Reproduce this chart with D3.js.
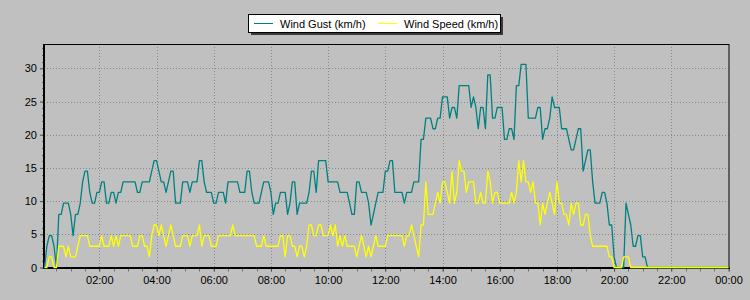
<!DOCTYPE html>
<html>
<head>
<meta charset="utf-8">
<script src="https://cdn.jsdelivr.net/npm/d3@7"></script>
<style>
    body { margin: 0; background: #c0c0c0; }
    svg { display: block; font-family: "Liberation Sans", Arial, sans-serif; }
</style>
</head>
<body>
<div id="chart"></div>
<script>
// readings every 5 minutes, first one at 00:05, last one at 24:00
const startMinute = 5;
const stepMinutes = 5;

const seriesNames = ['Wind Gust (km/h)', 'Wind Speed (km/h)'];
const seriesColors = ['#008080', '#ffff00'];

const windGust = [
    0, 3.2, 4.8, 4.8, 3.2, 0, 8.0, 8.0, 9.7, 9.7, 9.7, 8.0,
    4.8, 8.0, 8.0, 9.7, 12.9, 14.5, 14.5, 11.3, 9.7, 9.7, 11.3, 11.3,
    12.9, 12.9, 9.7, 9.7, 11.3, 11.3, 9.7, 11.3, 11.3, 12.9, 12.9, 12.9,
    12.9, 12.9, 12.9, 11.3, 11.3, 12.9, 12.9, 12.9, 12.9, 14.5, 16.1, 16.1,
    14.5, 12.9, 12.9, 11.3, 12.9, 14.5, 14.5, 9.7, 9.7, 9.7, 12.9, 12.9,
    12.9, 11.3, 12.9, 12.9, 12.9, 16.1, 16.1, 12.9, 11.3, 11.3, 11.3, 9.7,
    9.7, 11.3, 11.3, 11.3, 9.7, 12.9, 12.9, 12.9, 12.9, 12.9, 11.3, 11.3,
    11.3, 14.5, 14.5, 11.3, 9.7, 9.7, 9.7, 11.3, 12.9, 12.9, 12.9, 11.3,
    8.0, 9.7, 9.7, 11.3, 11.3, 11.3, 8.0, 9.7, 12.9, 12.9, 8.0, 9.7,
    9.7, 9.7, 9.7, 11.3, 14.5, 14.5, 11.3, 16.1, 16.1, 16.1, 16.1, 12.9,
    12.9, 12.9, 12.9, 12.9, 11.3, 11.3, 11.3, 11.3, 9.7, 8.0, 8.0, 12.9,
    12.9, 11.3, 11.3, 11.3, 9.7, 6.4, 8.0, 9.7, 11.3, 11.3, 11.3, 14.5,
    14.5, 16.1, 16.1, 11.3, 11.3, 11.3, 11.3, 9.7, 11.3, 11.3, 11.3, 12.9,
    12.9, 12.9, 19.3, 19.3, 22.5, 22.5, 22.5, 20.9, 20.9, 22.5, 22.5, 25.7,
    25.7, 25.7, 22.5, 24.1, 24.1, 22.5, 27.4, 27.4, 27.4, 27.4, 27.4, 24.1,
    25.7, 24.1, 20.9, 24.1, 24.1, 20.9, 29.0, 29.0, 22.5, 22.5, 24.1, 24.1,
    24.1, 19.3, 19.3, 20.9, 20.9, 19.3, 27.4, 27.4, 30.6, 30.6, 30.6, 22.5,
    22.5, 22.5, 22.5, 24.1, 24.1, 19.3, 20.9, 20.9, 22.5, 25.7, 24.1, 24.1,
    24.1, 20.9, 20.9, 20.9, 19.3, 17.7, 17.7, 19.3, 20.9, 20.9, 14.5, 16.1,
    17.7, 17.7, 12.9, 9.7, 9.7, 9.7, 11.3, 11.3, 9.7, 6.4, 6.4, 1.6,
    0, 0, 0, 0, 9.7, 8.0, 6.4, 3.2, 3.2, 4.8, 4.8, 1.6,
    1.6, 0, 0, 0, 0, 0, 0, 0, 0, 0, 0, 0,
    0, 0, 0, 0, 0, 0, 0, 0, 0, 0, 0, 0,
    0, 0, 0, 0, 0, 0, 0, 0, 0, 0, 0, 0
];

const windSpeed = [
    0, 0, 1.6, 1.6, 0, 0, 3.2, 3.2, 3.2, 1.6, 3.2, 1.6,
    1.6, 1.6, 3.2, 4.8, 4.8, 4.8, 4.8, 3.2, 3.2, 3.2, 3.2, 3.2,
    4.8, 3.2, 3.2, 3.2, 4.8, 3.2, 4.8, 3.2, 4.8, 4.8, 4.8, 4.8,
    4.8, 3.2, 3.2, 3.2, 4.8, 4.8, 3.2, 3.2, 1.6, 4.8, 6.4, 6.4,
    4.8, 6.4, 4.8, 3.2, 4.8, 6.4, 4.8, 3.2, 3.2, 3.2, 4.8, 4.8,
    4.8, 3.2, 4.8, 4.8, 4.8, 6.4, 3.2, 4.8, 4.8, 4.8, 3.2, 3.2,
    3.2, 4.8, 4.8, 4.8, 4.8, 4.8, 4.8, 6.4, 4.8, 4.8, 4.8, 4.8,
    4.8, 4.8, 4.8, 4.8, 4.8, 3.2, 3.2, 3.2, 4.8, 3.2, 3.2, 3.2,
    3.2, 3.2, 3.2, 4.8, 4.8, 1.6, 4.8, 4.8, 3.2, 3.2, 1.6, 3.2,
    3.2, 1.6, 3.2, 6.4, 6.4, 4.8, 4.8, 6.4, 6.4, 4.8, 4.8, 4.8,
    6.4, 4.8, 6.4, 3.2, 4.8, 3.2, 4.8, 3.2, 3.2, 3.2, 3.2, 1.6,
    3.2, 4.8, 3.2, 1.6, 3.2, 1.6, 3.2, 4.8, 3.2, 3.2, 3.2, 3.2,
    4.8, 4.8, 4.8, 4.8, 4.8, 4.8, 4.8, 3.2, 4.8, 4.8, 6.4, 4.8,
    3.2, 1.6, 6.4, 6.4, 12.9, 8.0, 8.0, 8.0, 9.7, 11.3, 9.7, 12.9,
    12.9, 11.3, 9.7, 14.5, 9.7, 11.3, 16.1, 14.5, 14.5, 11.3, 12.9, 12.9,
    12.9, 9.7, 9.7, 11.3, 9.7, 9.7, 14.5, 12.9, 9.7, 11.3, 11.3, 9.7,
    9.7, 9.7, 9.7, 9.7, 11.3, 9.7, 11.3, 16.1, 12.9, 16.1, 12.9, 12.9,
    11.3, 12.9, 9.7, 9.7, 6.4, 9.7, 8.0, 9.7, 11.3, 9.7, 8.0, 12.9,
    9.7, 9.7, 8.0, 8.0, 6.4, 9.7, 8.0, 9.7, 9.7, 6.4, 6.4, 8.0,
    8.0, 4.8, 3.2, 3.2, 3.2, 3.2, 3.2, 3.2, 3.2, 1.6, 1.6, 0,
    0, 0, 0, 1.6, 1.6, 1.6, 0, 0, 0, 0, 0, 0,
    0, 0, 0, 0, 0, 0, 0, 0, 0, 0, 0, 0,
    0, 0, 0, 0, 0, 0, 0, 0, 0, 0, 0, 0,
    0, 0, 0, 0, 0, 0, 0, 0, 0, 0, 0, 0
];

const yTicks = [0, 5, 10, 15, 20, 25, 30];
const xTickMinutes = [120, 240, 360, 480, 600, 720, 840, 960, 1080, 1200, 1320, 1440];

const width = 750, height = 300;
const plotLeft = 44, plotRight = 728.5, plotTop = 44, plotBottom = 267.5;

const svg = d3.select('#chart').append('svg')
    .attr('width', width)
    .attr('height', height);

svg.append('rect')
    .attr('width', width)
    .attr('height', height)
    .attr('fill', '#c0c0c0');

const maxValue = d3.max(windGust);

const x = d3.scaleLinear()
    .domain([startMinute, 1440])
    .range([plotLeft + 0.5, plotRight]);

const y = d3.scaleLinear()
    .domain([0, maxValue * 1.1])
    .range([plotBottom, plotTop]);

const fmtTime = m => {
    const h = Math.floor(m / 60) % 24;
    return String(h).padStart(2, '0') + ':' + String(m % 60).padStart(2, '0');
};

// dotted grid
svg.append('g')
    .selectAll('line')
    .data(yTicks.filter(d => d > 0))
    .enter()
    .append('line')
    .attr('x1', plotLeft)
    .attr('x2', plotRight)
    .attr('y1', d => Math.round(y(d)) + 0.5)
    .attr('y2', d => Math.round(y(d)) + 0.5)
    .attr('stroke', '#8a8a8a')
    .attr('stroke-dasharray', '1,2');

svg.append('g')
    .selectAll('line')
    .data(xTickMinutes.filter(d => d < 1440))
    .enter()
    .append('line')
    .attr('x1', d => Math.round(x(d)) + 0.5)
    .attr('x2', d => Math.round(x(d)) + 0.5)
    .attr('y1', plotTop)
    .attr('y2', plotBottom)
    .attr('stroke', '#8a8a8a')
    .attr('stroke-dasharray', '1,2');

// y axis: labels + major ticks, minor tick every 1 km/h
const yAxis = d3.axisLeft(y)
    .tickValues(yTicks)
    .tickSize(4)
    .tickPadding(3);

const yMinor = d3.range(0, Math.floor(maxValue * 1.1) + 1);
svg.append('g')
    .selectAll('line')
    .data(yMinor)
    .enter()
    .append('line')
    .attr('x1', plotLeft - 2)
    .attr('x2', plotLeft)
    .attr('y1', d => Math.round(y(d)) + 0.5)
    .attr('y2', d => Math.round(y(d)) + 0.5)
    .attr('stroke', '#707070');

const gy = svg.append('g')
    .attr('transform', `translate(${plotLeft},0)`)
    .call(yAxis);
gy.select('.domain').remove();
gy.selectAll('line').attr('stroke', '#505050');
gy.selectAll('text')
    .attr('font-size', 11)
    .attr('font-family', '"Liberation Sans", Arial, sans-serif')
    .attr('fill', '#000');

// x axis: half hour minor ticks
const xMinor = d3.range(30, 1441, 30);
svg.append('g')
    .selectAll('line')
    .data(xMinor)
    .enter()
    .append('line')
    .attr('x1', d => Math.round(x(d)) + 0.5)
    .attr('x2', d => Math.round(x(d)) + 0.5)
    .attr('y1', plotBottom)
    .attr('y2', plotBottom + 4)
    .attr('stroke', '#707070');

const xAxis = d3.axisBottom(x)
    .tickValues(xTickMinutes)
    .tickFormat(fmtTime)
    .tickSize(4)
    .tickPadding(5);

const gx = svg.append('g')
    .attr('transform', `translate(0,${plotBottom})`)
    .call(xAxis);
gx.select('.domain').remove();
gx.selectAll('line').attr('stroke', '#505050');
gx.selectAll('text')
    .attr('font-size', 11)
    .attr('font-family', '"Liberation Sans", Arial, sans-serif')
    .attr('fill', '#000');

// frame of the plot
svg.append('rect')
    .attr('x', plotLeft + 0.5)
    .attr('y', plotTop + 0.5)
    .attr('width', plotRight - plotLeft)
    .attr('height', plotBottom - plotTop)
    .attr('fill', 'none')
    .attr('stroke', '#000');
svg.append('line')
    .attr('x1', plotLeft).attr('x2', plotLeft)
    .attr('y1', plotTop).attr('y2', plotBottom + 1)
    .attr('stroke', '#000')
    .attr('stroke-width', 2);
svg.append('line')
    .attr('x1', plotLeft).attr('x2', plotRight + 1)
    .attr('y1', plotBottom + 0.5).attr('y2', plotBottom + 0.5)
    .attr('stroke', '#000')
    .attr('stroke-width', 2);

// series
const line = d3.line()
    .x((d, i) => x(startMinute + i * stepMinutes))
    .y(d => y(d));

[windGust, windSpeed].forEach((values, i) => {
    svg.append('path')
        .datum(values)
        .attr('d', line)
        .attr('fill', 'none')
        .attr('stroke', seriesColors[i])
        .attr('stroke-width', 1.3)
        .attr('stroke-linejoin', 'round');
});

// legend with drop shadow
const legend = svg.append('g')
    .attr('transform', 'translate(248,14)');

legend.append('rect')
    .attr('x', 3)
    .attr('y', 3)
    .attr('width', 252)
    .attr('height', 18)
    .attr('fill', '#3a3a3a');

legend.append('rect')
    .attr('x', 0.5)
    .attr('y', 0.5)
    .attr('width', 252)
    .attr('height', 18)
    .attr('fill', '#fff')
    .attr('stroke', '#000');

const legendX = [6, 130];
legend.selectAll('line.key')
    .data(seriesNames)
    .enter()
    .append('line')
    .attr('class', 'key')
    .attr('x1', (d, i) => legendX[i])
    .attr('x2', (d, i) => legendX[i] + 19)
    .attr('y1', 9.5)
    .attr('y2', 9.5)
    .attr('stroke', (d, i) => seriesColors[i])
    .attr('stroke-width', 1);

legend.selectAll('text')
    .data(seriesNames)
    .enter()
    .append('text')
    .attr('x', (d, i) => legendX[i] + 26)
    .attr('y', 13.5)
    .attr('font-size', 11)
    .attr('fill', '#000')
    .text(d => d);
</script>
</body>
</html>
